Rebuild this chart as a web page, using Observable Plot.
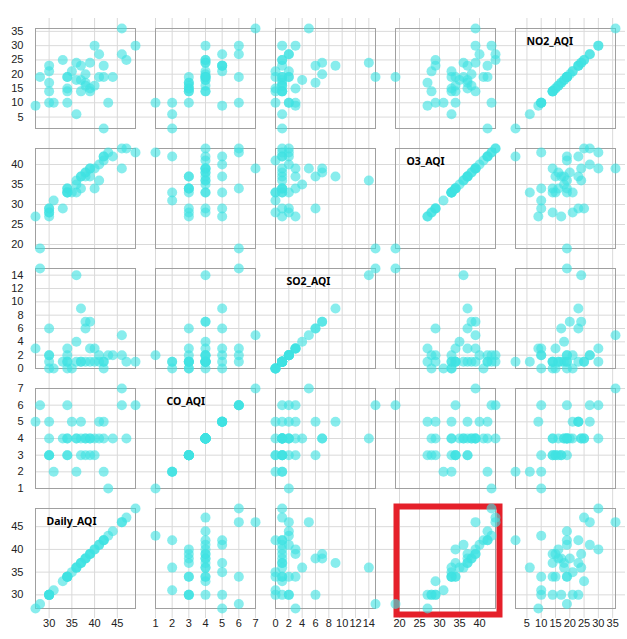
<!DOCTYPE html>
<html><head><meta charset="utf-8">
<script src="https://cdn.jsdelivr.net/npm/d3@7"></script>
<script src="https://cdn.jsdelivr.net/npm/@observablehq/plot@0.6"></script>
<style>
body{margin:0;background:#fff;}
#chart{position:relative;width:627px;height:639px;overflow:hidden;}
#chart svg{position:absolute;overflow:visible;}
</style></head><body><div id="chart"></div>
<script>
// one entry per daily record
const dailyAQI = [27,28,30,30,30,30,30,31,33,34,34,34,34,34,35,36,36,36,37,37,37,38,38,38,39,39,39,40,40,41,41,42,42,42,43,44,46,46,47,49];
const coAQI    = [5,6,5,4,3,3,3,2,4,6,4,3,3,4,5,2,4,4,5,4,3,4,3,4,4,3,4,4,3,5,4,5,4,2,1,4,7,6,4,6];
const so2AQI   = [3,15,6,2,1,0,2,0,1,3,2,1,0,1,0,1,14,4,9,1,1,7,6,1,7,3,1,3,1,2,1,1,0,1,2,2,5,2,1,1];
const o3AQI    = [27,19,29,28,27,28,29,31,29,34,33,34,33,33,33,33,36,35,37,37,34,38,37,38,39,37,39,39,34,40,36,42,41,42,43,42,39,44,44,43];
const no2AQI   = [9,19,23,21,17,14,10,10,25,10,19,19,15,14,21,6,24,18,23,18,14,20,17,16,24,15,14,30,16,27,19,23,19,1,10,19,36,27,25,30];

const variables = ["Daily_AQI","CO_AQI","SO2_AQI","O3_AQI","NO2_AQI"];
const dailyTicks = [30,35,40,45];
const coTicks = [1,2,3,4,5,6,7];
const so2Ticks = [0,2,4,6,8,10,12,14];
const o3Ticks = [20,25,30,35,40];
const no2Ticks = [5,10,15,20,25,30,35];

const tickArr = {Daily_AQI: dailyTicks, CO_AQI: coTicks, SO2_AQI: so2Ticks, O3_AQI: o3Ticks, NO2_AQI: no2Ticks};
const records = dailyAQI.map((d, i) => ({Daily_AQI: d, CO_AQI: coAQI[i], SO2_AQI: so2AQI[i], O3_AQI: o3AQI[i], NO2_AQI: no2AQI[i]}));

const colVars = variables;
const rowVars = variables.slice().reverse();
const chart = document.getElementById("chart");
const fmt = d => String(d);

for (let r = 0; r < 5; r++) {
  for (let c = 0; c < 5; c++) {
    const xv = colVars[c], yv = rowVars[r];
    const first = c === 0, last = r === 4;
    const mL = first ? 35 : 10, mB = last ? 30 : 10;
    const marks = [
      Plot.ruleX(tickArr[xv], {stroke: "#dadada", insetTop: -10, insetBottom: -10}),
      Plot.ruleY(tickArr[yv], {stroke: "#dadada", insetLeft: first ? 0 : -10, insetRight: -10}),
      Plot.frame({stroke: "#a0a0a0"})
    ];
    if (r === 4 && c === 3) {
      marks.push(Plot.frame({stroke: "#e5202a", strokeWidth: 6, insetLeft: 1, insetRight: -4, insetTop: -2, insetBottom: -6}));
    }
    marks.push(Plot.dot(records, {x: xv, y: yv, r: 5, fill: "#3fe2e2", fillOpacity: 0.62}));
    if (xv === yv) {
      marks.push(Plot.text([xv], {text: d => d, frameAnchor: "top-left", dx: 11, dy: 9, lineAnchor: "top", textAnchor: "start", fontWeight: "bold", fontSize: 10.5, fontFamily: "'Noto Sans', sans-serif", fill: "#000"}));
    }
    const svg = Plot.plot({
      width: 100 + mL + 10,
      height: 100 + 10 + mB,
      marginLeft: mL, marginRight: 10, marginTop: 10, marginBottom: mB,
      style: {fontFamily: "'Liberation Sans', Arial, sans-serif", fontSize: "11px", color: "#222", background: "none", overflow: "visible"},
      x: {domain: d3.extent(records, d => d[xv]), axis: last ? "bottom" : null, ticks: tickArr[xv], tickFormat: fmt, tickSize: 0, tickPadding: 11, label: null},
      y: {domain: d3.extent(records, d => d[yv]), axis: first ? "left" : null, ticks: tickArr[yv], tickFormat: fmt, tickSize: 0, tickPadding: 12, label: null},
      marks
    });
    svg.style.left = (first ? 0 : 25 + c * 120) + "px";
    svg.style.top = (18 + r * 120) + "px";
    chart.appendChild(svg);
  }
}
</script></body></html>
